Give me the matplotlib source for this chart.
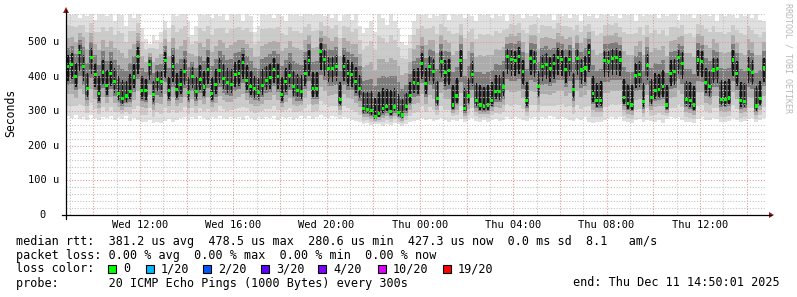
import numpy as np
import matplotlib.pyplot as plt
from matplotlib.patches import Rectangle, Polygon
from matplotlib.lines import Line2D

W, H = 797, 297
MONO = 'DejaVu Sans Mono'


def fx(x):
    return x / W


def fy(y):
    return 1 - y / H


# ---- data (10 minute steps, start Wed 08:50, end Thu 14:50) ----
step_min = 10
median_us = [428, 436, 400, 470, 430, 365, 455, 405, 350, 412, 374, 408, 385, 350, 336, 344, 358, 399, 457, 361,
             359, 436, 349, 392, 385, 446, 359, 428, 363, 376, 414,
             353, 400, 358, 392, 370, 420, 350, 376, 418, 395, 384, 378, 405, 410, 440, 390, 372, 365, 355, 375,
             390, 398, 420, 400, 349, 385, 404, 372, 359, 356,
             410, 446, 366, 366, 472, 449, 423, 423, 430, 334, 428, 409, 407, 385, 366, 308, 305, 301, 284, 293,
             308, 313, 300, 312, 296, 289, 313, 346, 382, 380,
             438, 380, 430, 415, 336, 443, 411, 417, 318, 344, 446, 308, 344, 407, 332, 318, 313, 318, 332, 356,
             356, 370, 457, 449, 446, 457, 414, 330, 452, 443, 372,
             428, 436, 423, 438, 455, 449, 421, 449, 363, 452, 419, 425, 470, 350, 330, 332, 446, 443, 452, 455,
             448, 340, 322, 318, 404, 407, 327, 433, 340, 361,
             363, 372, 318, 409, 414, 455, 438, 334, 330, 318, 448, 443, 382, 372, 419, 423, 335, 335, 338, 448,
             410, 330, 328, 420, 412, 315, 337, 425]
min_us = [285, 280, 290, 278, 282, 275, 288, 280, 276, 284,
          280, 286, 274, 282, 278, 285, 272, 280, 276, 270,
          268, 274, 265, 270, 266, 272, 278, 270, 275, 280,
          282, 276, 284, 278, 286, 280, 275, 283, 279, 285,
          281, 277, 284, 279, 282, 276, 285, 280, 274, 282,
          278, 284, 280, 286, 276, 282, 279, 284, 276, 281,
          285, 280, 286, 278, 282, 288, 284, 280, 286, 282,
          278, 284, 280, 276, 272, 268, 262, 266, 260, 264,
          262, 258, 264, 260, 266, 262, 258, 264, 268, 272,
          276, 280, 274, 278, 272, 276, 280, 274, 270, 276,
          272, 278, 268, 274, 280, 272, 268, 274, 270, 276,
          278, 272, 276, 282, 278, 284, 280, 276, 272, 280,
          282, 276, 284, 280, 286, 282, 278, 284, 280, 276,
          272, 280, 276, 282, 270, 266, 270, 268, 276, 280,
          282, 278, 284, 272, 268, 266, 274, 278, 270, 276,
          272, 270, 276, 266, 278, 282, 280, 284, 276, 270,
          268, 266, 278, 282, 276, 274, 280, 278, 270, 268,
          272, 280, 276, 268, 272, 278, 280, 268, 274, 280]
max_us = [582, 578, 582, 570, 582, 575, 582, 565, 580, 582,
          575, 582, 560, 582, 578, 545, 582, 570, 582, 540,
          510, 495, 520, 505, 530, 560, 540, 582, 575, 582,
          582, 560, 520, 545, 582, 578, 582, 570, 582, 575,
          582, 565, 582, 578, 582, 560, 582, 575, 530, 545,
          582, 578, 582, 570, 582, 575, 560, 582, 578, 582,
          575, 582, 582, 578, 582, 582, 575, 582, 570, 582,
          560, 578, 582, 565, 582, 545, 525, 540, 560, 530,
          582, 570, 550, 582, 560, 540, 500, 490, 520, 560,
          582, 578, 582, 570, 582, 575, 582, 582, 565, 582,
          578, 582, 570, 582, 575, 560, 582, 578, 582, 570,
          582, 575, 582, 560, 582, 578, 582, 570, 582, 575,
          582, 570, 582, 578, 582, 565, 582, 575, 582, 570,
          582, 578, 560, 582, 575, 582, 570, 582, 578, 582,
          575, 582, 570, 582, 578, 582, 560, 582, 575, 582,
          578, 582, 570, 582, 575, 582, 580, 565, 582, 578,
          582, 570, 582, 578, 582, 575, 582, 560, 582, 575,
          582, 578, 570, 582, 575, 582, 570, 582, 565, 560]

tick_min = [190, 430, 670, 910, 1150, 1390, 1630]
tick_labels = ['Wed 12:00', 'Wed 16:00', 'Wed 20:00', 'Thu 00:00', 'Thu 04:00', 'Thu 08:00', 'Thu 12:00']
y_ticks = [0, 100, 200, 300, 400, 500]
y_labels = ['0', '100 u', '200 u', '300 u', '400 u', '500 u']

loss_labels = ['0', '1/20', '2/20', '3/20', '4/20', '10/20', '19/20']
loss_colors = ['#00ff00', '#00b8ff', '#0059ff', '#5e00ff', '#7e00ff', '#dd00ff', '#ff0000']

med = np.array(median_us, dtype=float)
lo = np.array(min_us, dtype=float)
hi = np.array(max_us, dtype=float)
t = np.arange(len(med)) * step_min
t_end = len(med) * step_min

fig = plt.figure(figsize=(W / 100, H / 100), dpi=100)
fig.patch.set_facecolor('white')
ax = fig.add_axes([fx(66), 1 - 215 / H, 700 / W, 201 / H])
ax.set_xlim(0, t_end)
ax.set_ylim(0, 201 / 0.346)
ax.axis('off')

# grid
for k in range(0, 30):
    hx = 10 + 60 * k
    major = (9 + k) % 2 == 0
    ax.axvline(hx, color='#e09a9a' if major else '#c4c4c4', lw=0.8, ls=(0, (1, 1.5)), zorder=3)
for v in range(20, 600, 20):
    major = v % 100 == 0
    ax.axhline(v, color='#e09a9a' if major else '#c4c4c4', lw=0.8, ls=(0, (1, 1.5)), zorder=3)

# smoke: nested bands from min/max towards the median
fracs = [1.0, 0.78, 0.55, 0.36, 0.2]
greys = ['#e0e0e0', '#cbcbcb', '#acacac', '#7c7c7c', '#505050']
for f, c in zip(fracs, greys):
    bot = med - f * (med - lo)
    top = med + f * (hi - med)
    ax.bar(t, top - bot, bottom=bot, width=step_min, align='edge', color=c, linewidth=0, zorder=2)
# dense core, thin
core_bot = med - 0.28 * (med - lo)
core_top = med + 0.22 * (hi - med)
ax.bar(t + step_min * 0.3, core_top - core_bot, bottom=core_bot, width=step_min * 0.4, align='edge',
       color='#151515', linewidth=0, zorder=2)

# median
ax.bar(t + step_min * 0.15, 9, bottom=med - 4.5, width=step_min * 0.7, align='edge', color='#00ff00',
       linewidth=0, zorder=4)

# axes lines and arrows
fig.add_artist(Line2D([fx(62), fx(771)], [fy(215), fy(215)], color='black', lw=0.9))
fig.add_artist(Line2D([fx(66), fx(66)], [fy(219), fy(10)], color='black', lw=0.9))
fig.add_artist(Polygon([[fx(769), fy(212)], [fx(774), fy(215)], [fx(769), fy(218)]], closed=True,
                       color='#9a1a1a', lw=0))
fig.add_artist(Polygon([[fx(63), fy(13)], [fx(66), fy(7)], [fx(69), fy(13)]], closed=True,
                       color='#9a1a1a', lw=0))

# tick labels
for v, lab in zip(y_ticks, y_labels):
    y = 215 - v * 0.346
    xr = 46 if lab == '0' else 59
    fig.text(fx(xr), fy(y), lab, ha='right', va='center', family=MONO, fontsize=7.5)
for m, lab in zip(tick_min, tick_labels):
    x = 66 + m / t_end * 700
    fig.text(fx(x), fy(225), lab, ha='center', va='center', family=MONO, fontsize=7.5)

fig.text(fx(11), fy(113), 'Seconds', rotation=90, ha='center', va='center', family=MONO, fontsize=8.3)
fig.text(fx(788), fy(58), 'RRDTOOL / TOBI OETIKER', rotation=270, ha='center', va='center',
         family=MONO, fontsize=6, color='#b8b8b8')

# legend
fs = 8.5
fig.text(fx(16), fy(241), 'median rtt:  381.2 us avg  478.5 us max  280.6 us min  427.3 us now  0.0 ms sd  8.1   am/s',
         ha='left', va='center', family=MONO, fontsize=fs)
fig.text(fx(16), fy(255), 'packet loss: 0.00 % avg  0.00 % max  0.00 % min  0.00 % now',
         ha='left', va='center', family=MONO, fontsize=fs)
fig.text(fx(16), fy(269), 'loss color:', ha='left', va='center', family=MONO, fontsize=fs)
sq_x = [108, 146, 203, 261, 318, 378, 443]
for x, lab, c in zip(sq_x, loss_labels, loss_colors):
    fig.add_artist(Rectangle((fx(x), fy(273)), 8 / W, 8 / H, facecolor=c, edgecolor='black', lw=0.8))
    fig.text(fx(x + 15), fy(269), lab, ha='left', va='center', family=MONO, fontsize=fs)
fig.text(fx(16), fy(283), 'probe:       20 ICMP Echo Pings (1000 Bytes) every 300s',
         ha='left', va='center', family=MONO, fontsize=fs)
fig.text(fx(780), fy(283), 'end: Thu Dec 11 14:50:01 2025', ha='right', va='center', family=MONO, fontsize=fs)

fig.savefig('out.png', dpi=100, facecolor='white')
